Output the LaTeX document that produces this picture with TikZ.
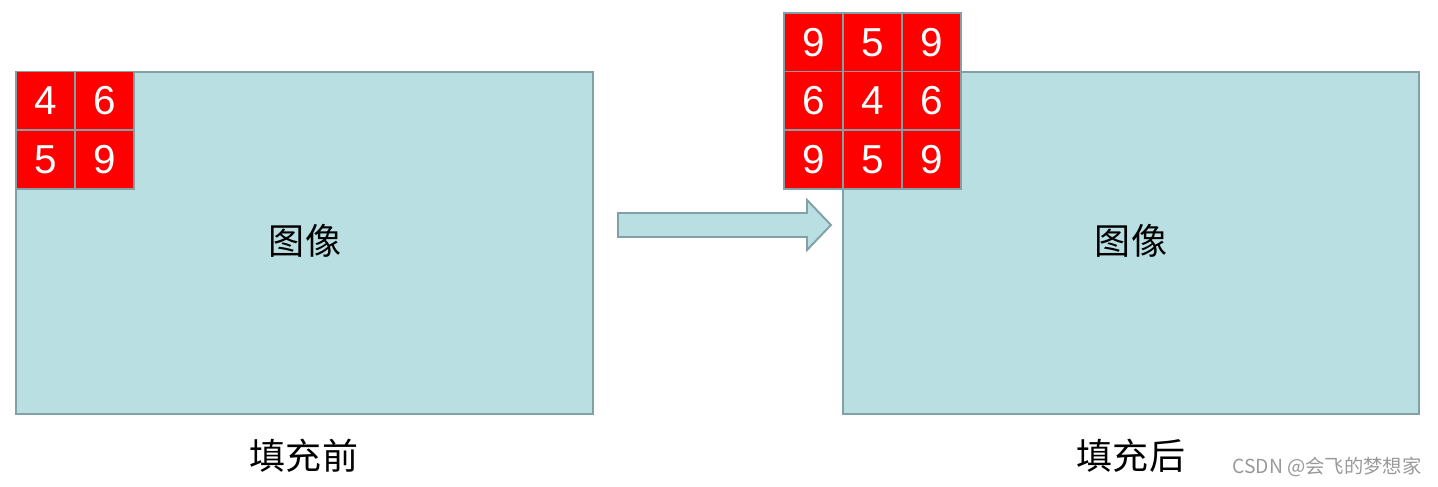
\documentclass[tikz,border=0pt]{standalone}
\usepackage{fontspec}
\setmainfont{Liberation Sans}
\newfontfamily\cjk{Noto Sans CJK SC}
\usepackage{xcolor}
\usetikzlibrary{positioning,calc}

\definecolor{imgfill}{RGB}{185,223,226}
\definecolor{imgline}{RGB}{130,160,165}
\definecolor{cellred}{RGB}{255,0,0}

\begin{document}
\begin{tikzpicture}[x=0.02cm,y=-0.02cm,
  imgbox/.style={draw=imgline,fill=imgfill,line width=1.1pt,minimum width=11.54cm,minimum height=6.84cm,inner sep=0pt},
  cell/.style={draw=imgline,fill=cellred,line width=1.1pt,minimum size=1.18cm,inner sep=0pt,text=white,font=\fontsize{23}{23}\selectfont},
  captext/.style={font=\cjk\fontsize{20.5}{20.5}\selectfont}]
  \useasboundingbox (0,0) rectangle (1438,487);
  % images
  \node[imgbox] (imgL) at (304.5,243) {};
  \node[imgbox] (imgR) at (1131,243) {};
  \node[captext] (txtL) at (305,241) {图像};
  \node[captext] (txtR) at (1131,241) {图像};
  % kernel before padding
  \foreach \v [count=\i] in {4,6,5,9} {
    \pgfmathsetmacro\cx{45.5+59*mod(\i-1,2)}
    \pgfmathsetmacro\cy{101+58.5*int((\i-1)/2)}
    \node[cell] (L\i) at (\cx,\cy) {\v};
  }
  % kernel after padding
  \foreach \v [count=\i] in {9,5,9,6,4,6,9,5,9} {
    \pgfmathsetmacro\cx{813.5+59*mod(\i-1,3)}
    \pgfmathsetmacro\cy{42.5+58.5*int((\i-1)/3)}
    \node[cell] (R\i) at (\cx,\cy) {\v};
  }
  % arrow
  \draw[draw=imgline,fill=imgfill,line width=1.1pt,line join=miter]
    (618,213) -- (807,213) -- (807,200) -- (831,225) -- (807,250) -- (807,237) -- (618,237) -- cycle;
  % captions
  \node[captext] (capL) at (304,456) {填充前};
  \node[captext] (capR) at (1131,456) {填充后};
  \node[text=black!40,font=\cjk\fontsize{11}{11}\selectfont] (mark) at (1327,467) {CSDN @会飞的梦想家};
\end{tikzpicture}
\end{document}
